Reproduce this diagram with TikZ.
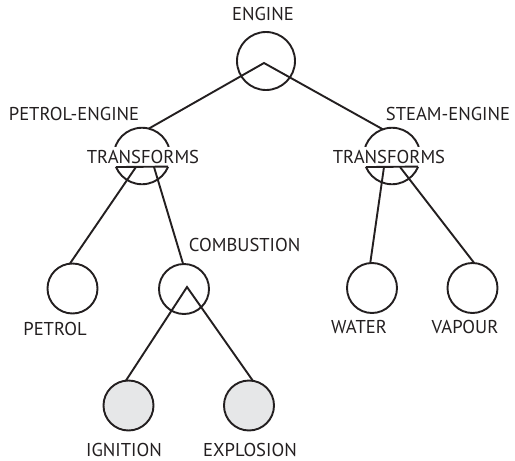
\documentclass[tikz,border=0pt]{standalone}
\usepackage{fontspec}
\setmainfont{PT Sans}
\usetikzlibrary{calc}
\definecolor{ink}{HTML}{231F20}
\definecolor{leaf}{HTML}{E6E7E8}
\begin{document}
\begin{tikzpicture}[x=1pt,y=-1pt,color=ink,line width=1.9pt,line join=miter,
  base/.style={circle,draw=ink,line width=1.9pt,inner sep=0pt,outer sep=0pt},
  small/.style={base,minimum size=50pt},
  mid/.style={base,minimum size=56.5pt},
  big/.style={base,minimum size=58pt},
  leafnode/.style={small,fill=leaf},
  lbl/.style={font=\fontsize{18.6}{20}\selectfont,text=ink,inner sep=0pt},
  tf/.style={lbl,fill=white,inner xsep=1pt,inner ysep=0pt,minimum height=20pt}]
\useasboundingbox (0,0) rectangle (515,461);
% circles
\node[big] (eng) at (266,61) {};
\node[mid] (pt) at (142,156) {};
\node[mid] (st) at (392,156) {};
\node[small] (pet) at (72.5,288.5) {};
\node[small] (com) at (184,289) {};
\node[small] (wat) at (372,288) {};
\node[small] (vap) at (472.5,288) {};
\node[leafnode] (ign) at (128.5,405.5) {};
\node[leafnode] (exp) at (249,405.5) {};
% transforms text and chords
\node[tf] (ptt) at (143,157) {TRANSFORMS};
\node[tf] (stt) at (389,157) {TRANSFORMS};
\draw (pt.-22.7) -- (pt.-157.3);
\draw (st.-22.7) -- (st.-157.3);
% labels
\node[lbl] (engl) at (263,14) {ENGINE};
\node[lbl] (ptl) at (74,114) {PETROL-ENGINE};
\node[lbl] (stl) at (448,114) {STEAM-ENGINE};
\node[lbl,anchor=west] (coml) at (188,245) {COMBUSTION};
\node[lbl] (petl) at (55,329) {PETROL};
\node[lbl] (watl) at (359,327) {WATER};
\node[lbl] (vapl) at (465,327) {VAPOUR};
\node[lbl] (ignl) at (124,449.5) {IGNITION};
\node[lbl] (expl) at (250,449.5) {EXPLOSION};
% connectors
\coordinate (eapex) at ($(eng.center)+(-2,2)$);
\coordinate (capex) at ($(com.center)+(3,-2)$);
\draw (pt.76) -- (eapex) -- (st.109);
\draw ($(pt.center)+(-6,11)$) -- (pet.96);
\draw ($(pt.center)+(12,11)$) -- (com.92);
\draw ($(st.center)+(-8,11)$) -- (wat.94);
\draw ($(st.center)+(8,11)$) -- (vap.86);
\draw (ign.96) -- (capex) -- (exp.81);
\end{tikzpicture}
\end{document}
